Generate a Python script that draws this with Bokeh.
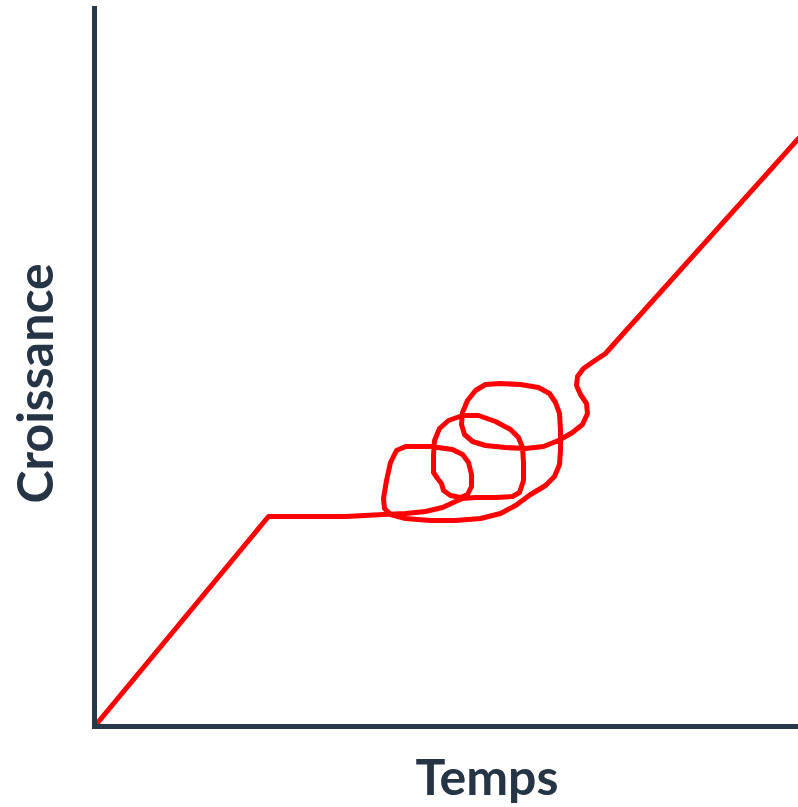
from bokeh.plotting import figure
from bokeh.models import Range1d, FixedTicker, Title
from bokeh.embed import file_html
from bokeh.resources import INLINE

# Hand-drawn growth path: straight rise, plateau, tangle of loops, rise again
temps = [0, 174, 251, 289, 311, 331, 348, 361, 368, 381, 401, 418, 425, 429, 429, 428,
         424, 416, 401, 384, 368, 354, 345, 340, 339, 339, 343, 347, 349, 356, 366, 373,
         377, 377, 374, 368, 358, 336, 311, 302, 296, 292, 289, 290, 296, 311, 336, 361,
         386, 406, 421, 436, 451, 460, 465, 466, 466, 465, 461, 455, 444, 426, 406, 391,
         381, 373, 368, 367, 370, 378, 391, 411, 431, 449, 464, 478, 488, 493, 492, 486,
         482, 483, 489, 499, 511, 519, 704]
croissance = [0, 210, 210, 212, 213, 215, 219, 225, 228, 229, 229, 230, 234, 246, 264, 279,
              289, 297, 305, 311, 311, 306, 298, 286, 271, 254, 248, 243, 236, 231, 229, 232,
              240, 252, 264, 272, 277, 280, 280, 276, 264, 246, 228, 218, 212, 208, 206, 206,
              208, 213, 221, 232, 241, 250, 262, 276, 296, 313, 324, 333, 339, 342, 343, 342,
              336, 326, 314, 302, 292, 285, 281, 279, 278, 280, 286, 294, 302, 313, 323, 332,
              341, 350, 358, 365, 373, 382, 588]

x_label = "Temps"
y_label = "Croissance"

axis_color = "#27384a"
text_color = "#253545"

p = figure(width=798, height=807, output_backend="svg", toolbar_location=None,
           x_range=Range1d(0, 704), y_range=Range1d(0, 718),
           min_border_left=94, min_border_right=0, min_border_top=8, min_border_bottom=81)
p.outline_line_color = None
p.grid.visible = False
p.background_fill_color = "white"
p.border_fill_color = "white"

for ax, gap in ((p.xaxis[0], 17), (p.yaxis[0], 31)):
    ax.ticker = FixedTicker(ticks=[0])
    ax.major_label_overrides = {0: ""}
    ax.major_label_text_font_size = "0px"
    ax.minor_tick_line_color = None
    ax.major_tick_line_color = None
    ax.major_tick_out = gap      # invisible tick: only keeps the title away from the axis
    ax.major_tick_in = 0
    ax.major_label_standoff = 0
    ax.axis_line_width = 5
    ax.axis_line_color = axis_color
    ax.axis_line_cap = "square"

p.line(temps, croissance, line_color="#ff0000", line_width=5,
       line_join="round", line_cap="round")

p.add_layout(Title(text=x_label, align="left", offset=321, standoff=0,
                   text_font="Lato", text_font_size="50px", text_font_style="bold",
                   text_color=text_color), "below")
p.add_layout(Title(text=y_label, align="left", offset=223, standoff=0,
                   text_font="Lato", text_font_size="50px", text_font_style="bold",
                   text_color=text_color), "left")

open("out.html", "w").write(file_html(p, INLINE))
